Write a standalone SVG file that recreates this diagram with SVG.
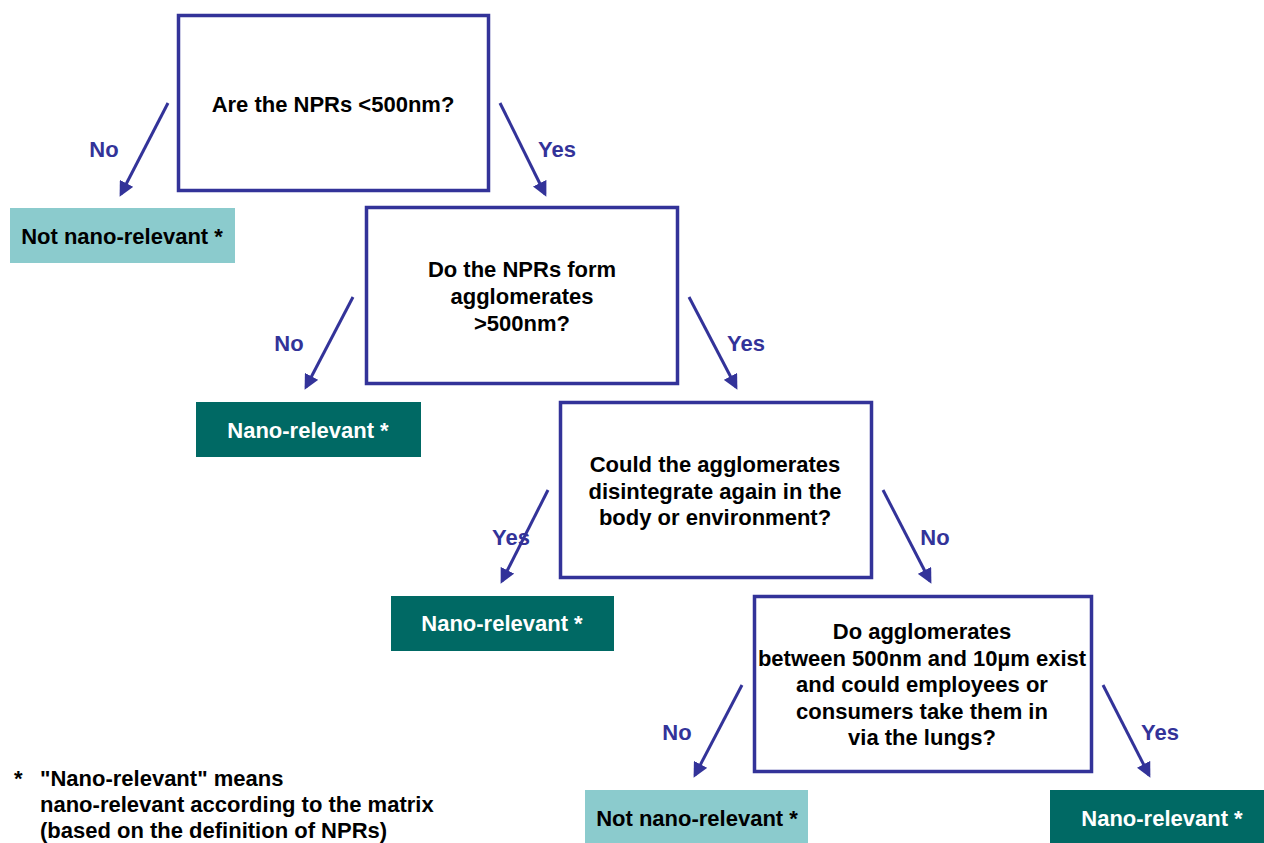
<svg xmlns="http://www.w3.org/2000/svg" width="1264" height="843" viewBox="0 0 1264 843">
<style>
.q{fill:#ffffff;stroke:#333399;stroke-width:3.5}
.lt{fill:#8bcbcd}
.dk{fill:#006964}
text{font-family:"Liberation Sans",Arial,sans-serif;font-weight:bold;font-size:22px}
.c{text-anchor:middle}
.b{fill:#000000}
.w{fill:#ffffff}
.lab{fill:#333399;text-anchor:middle}
.con{stroke:#333399;stroke-width:3;fill:none}
</style>
<defs>
<marker id="ah" markerWidth="5" markerHeight="5" refX="4" refY="2.5" orient="auto" markerUnits="strokeWidth">
<path d="M0,0 L5,2.5 L0,5 z" fill="#333399"/>
</marker>
</defs>
<rect width="1264" height="843" fill="#ffffff"/>
<g id="connectors">
<line class="con" x1="168" y1="103" x2="121" y2="194" marker-end="url(#ah)"/>
<line class="con" x1="500" y1="103" x2="545" y2="194" marker-end="url(#ah)"/>
<line class="con" x1="353" y1="297" x2="306" y2="387" marker-end="url(#ah)"/>
<line class="con" x1="689" y1="297" x2="736" y2="387" marker-end="url(#ah)"/>
<line class="con" x1="548" y1="490" x2="502" y2="581" marker-end="url(#ah)"/>
<line class="con" x1="883" y1="490" x2="930" y2="581" marker-end="url(#ah)"/>
<line class="con" x1="742" y1="685" x2="695" y2="775" marker-end="url(#ah)"/>
<line class="con" x1="1103" y1="685" x2="1149" y2="775" marker-end="url(#ah)"/>
<text class="lab" x="104" y="157">No</text>
<text class="lab" x="557" y="157">Yes</text>
<text class="lab" x="289" y="351">No</text>
<text class="lab" x="746" y="351">Yes</text>
<text class="lab" x="511" y="545">Yes</text>
<text class="lab" x="935" y="545">No</text>
<text class="lab" x="677" y="740">No</text>
<text class="lab" x="1160" y="740">Yes</text>
</g>
<g id="q1">
<rect class="q" x="178.5" y="15.5" width="310" height="175"/>
<text class="c b" x="333" y="112">Are the NPRs &lt;500nm?</text>
</g>
<g id="r1">
<rect class="lt" x="10" y="208" width="225" height="55"/>
<text class="c b" x="122" y="244">Not nano-relevant *</text>
</g>
<g id="q2">
<rect class="q" x="366.5" y="207.5" width="311" height="176"/>
<text class="c b" x="522" y="277">Do the NPRs form</text>
<text class="c b" x="522" y="304">agglomerates</text>
<text class="c b" x="522" y="331">&gt;500nm?</text>
</g>
<g id="r2">
<rect class="dk" x="196" y="402" width="225" height="55"/>
<text class="c w" x="308" y="438">Nano-relevant *</text>
</g>
<g id="q3">
<rect class="q" x="560.5" y="402.5" width="311" height="175"/>
<text class="c b" x="715" y="472">Could the agglomerates</text>
<text class="c b" x="715" y="499">disintegrate again in the</text>
<text class="c b" x="715" y="525">body or environment?</text>
</g>
<g id="r3">
<rect class="dk" x="391" y="596" width="223" height="55"/>
<text class="c w" x="502" y="631">Nano-relevant *</text>
</g>
<g id="q4">
<rect class="q" x="754.5" y="596.5" width="337" height="175"/>
<text class="c b" x="922" y="639">Do agglomerates</text>
<text class="c b" x="922" y="666">between 500nm and 10µm exist</text>
<text class="c b" x="922" y="692">and could employees or</text>
<text class="c b" x="922" y="719">consumers take them in</text>
<text class="c b" x="922" y="745">via the lungs?</text>
</g>
<g id="r4">
<rect class="lt" x="585" y="790" width="223" height="55"/>
<text class="c b" x="697" y="826">Not nano-relevant *</text>
</g>
<g id="r5">
<rect class="dk" x="1050" y="790" width="214" height="55"/>
<text class="c w" x="1162" y="826">Nano-relevant *</text>
</g>
<g id="footnote">
<text class="b" x="14" y="786">*</text>
<text class="b" x="40" y="786">"Nano-relevant" means</text>
<text class="b" x="40" y="812">nano-relevant according to the matrix</text>
<text class="b" x="40" y="838">(based on the definition of NPRs)</text>
</g>
</svg>
